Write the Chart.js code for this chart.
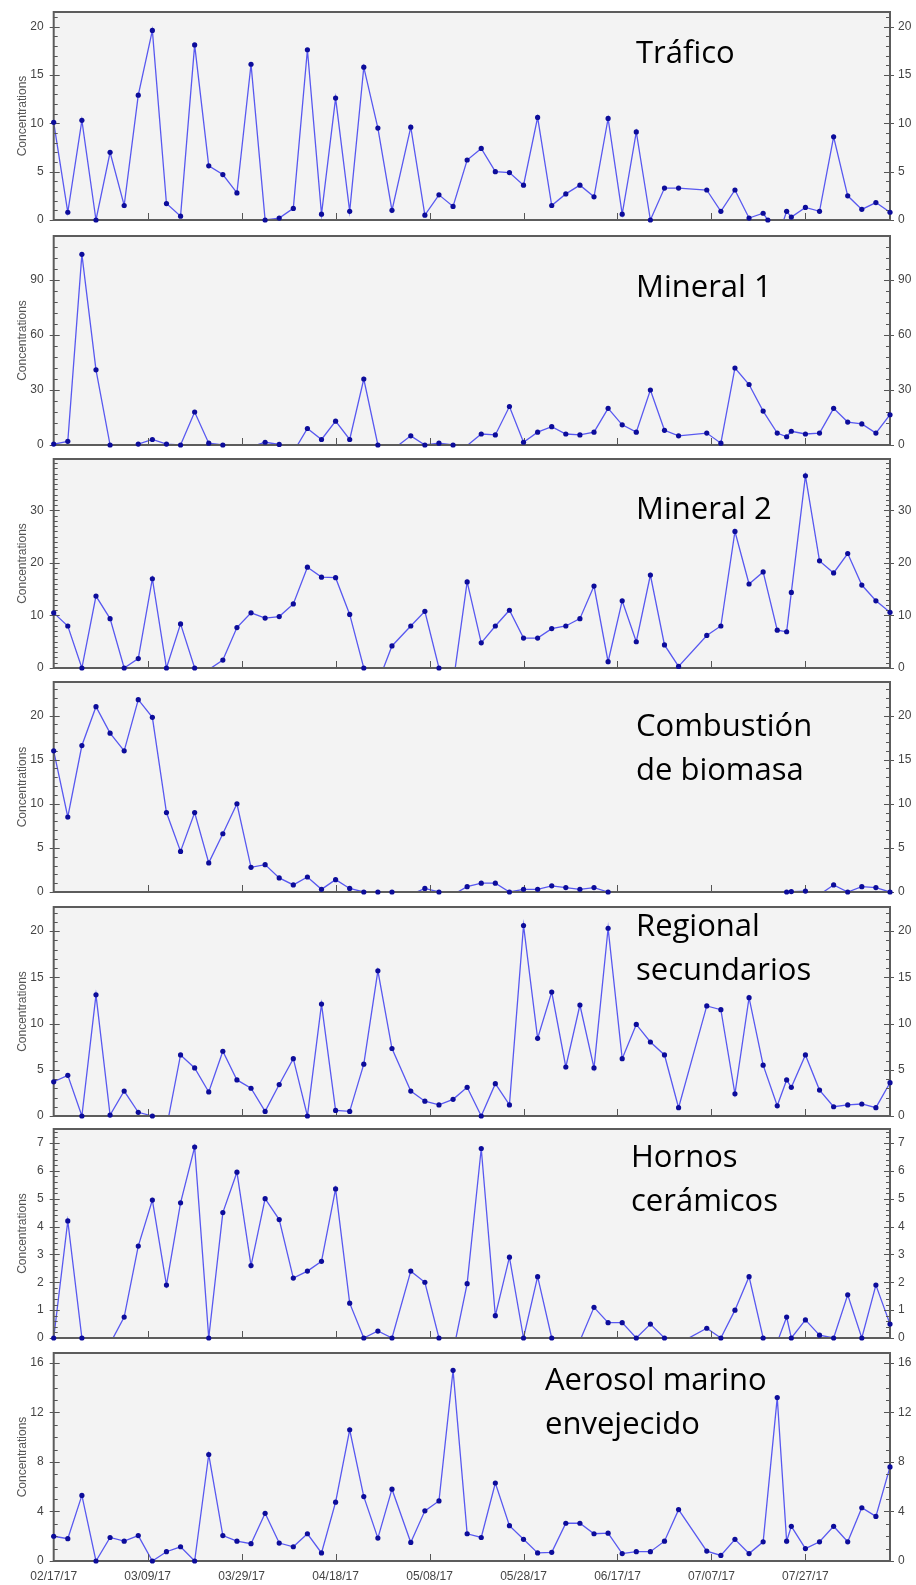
<!DOCTYPE html>
<html>
<head>
<meta charset="utf-8">
<script src="https://cdn.jsdelivr.net/npm/chart.js@4.4.1/dist/chart.umd.min.js"></script>
<style>
html,body{margin:0;padding:0;background:#fff;}
#wrap{position:relative;width:916px;height:1585px;overflow:hidden;background:#fff;}
#wrap canvas{position:absolute;left:0;}
.lbl{position:absolute;font-family:"Open Sans","Noto Sans",sans-serif;font-size:31px;line-height:44px;color:#000;white-space:nowrap;}
</style>
</head>
<body>
<div id="wrap"></div>
<script>
// ---------- DATA ----------
// sampling days, counted from 02/17/17
const sampleDays = [0,3,6,9,12,15,18,21,24,27,30,33,36,39,42,45,48,51,54,57,60,63,66,69,72,
  76,79,82,85,88,91,94,97,100,103,106,109,112,115,118,121,124,127,130,133,
  139,142,145,148,151,152,154,156,157,160,163,166,169,172,175,178];

const trafico = [10.1,0.8,10.3,0,7.0,1.5,12.9,19.6,1.7,0.4,18.1,5.6,4.7,2.8,16.1,0,0.2,1.2,17.6,0.6,12.6,0.9,15.8,9.5,1.0,
  9.6,0.5,2.6,1.4,6.2,7.4,5.0,4.9,3.6,10.6,1.5,2.7,3.6,2.4,10.5,0.6,9.1,0,3.3,3.3,
  3.1,0.9,3.1,0.2,0.7,0,-2,0.9,0.3,1.3,0.9,8.6,2.5,1.1,1.8,0.8];

const mineral1 = [0.5,2,104,41,0,-0.5,0.5,3,0.5,0,18,1,0,-2,-1,1.5,0.3,-3.9,9,3,13,3,36,0,-2.8,
  5,0,1,0,-0.3,6,5.5,21,1.5,7,10,6,5.5,7,20,11,7,30,8,5,
  6.5,1,42,33,18.5,null,6.5,4.5,7.5,6,6.5,20,12.5,11.5,6.5,16.5];

const mineral2 = [10.5,8,0,13.7,9.4,0,1.8,17,0,8.4,0,-0.3,1.5,7.7,10.5,9.5,9.8,12.2,19.2,17.3,17.2,10.2,0,-2.8,4.2,
  8,10.8,0,-3,16.4,4.8,8,11,5.7,5.7,7.5,8,9.4,15.6,1.2,12.8,5,17.7,4.4,0.3,
  6.2,8,26,16,18.3,null,7.2,6.9,14.4,36.6,20.4,18.1,21.8,15.8,12.8,10.6];

const biomasa = [16,8.5,16.6,21,18,16,21.8,19.8,9,4.6,9,3.3,6.6,10,2.8,3.1,1.6,0.8,1.7,0.3,1.4,0.4,0,0,0,
  -0.3,0.4,0,-0.3,0.6,1.0,1.0,0,0.3,0.3,0.7,0.5,0.3,0.5,0,-0.5,-0.5,-0.5,-0.5,-0.5,
  -0.5,-0.5,-0.5,-0.5,-0.5,null,-0.3,0,0.05,0.1,-0.3,0.8,0,0.6,0.5,0];

const regional = [3.7,4.4,0,13.1,0.1,2.7,0.4,0,-1.3,6.6,5.2,2.6,7.0,3.9,3.0,0.5,3.4,6.2,0,12.1,0.6,0.5,5.6,15.7,7.3,
  2.7,1.6,1.2,1.8,3.1,0,3.5,1.2,20.6,8.4,13.4,5.3,12.0,5.2,20.3,6.2,9.9,8.0,6.6,0.9,
  11.9,11.5,2.4,12.8,5.5,null,1.1,3.9,3.1,6.6,2.8,1.0,1.2,1.3,0.9,3.6];

const hornos = [0,4.2,0,-0.5,-0.2,0.75,3.3,4.95,1.9,4.85,6.85,0,4.5,5.95,2.6,5.0,4.25,2.15,2.4,2.75,5.35,1.25,0,0.25,0,
  2.4,2.0,0,-0.5,1.95,6.8,0.8,2.9,0,2.2,0,-0.5,-0.1,1.1,0.55,0.55,0,0.5,0,-0.2,
  0.35,0,1.0,2.2,0,null,-0.15,0.75,0,0.65,0.1,0,1.55,0,1.9,0.5];

const aerosol = [2.0,1.8,5.3,0,1.9,1.6,2.05,0,0.75,1.15,0,8.6,2.05,1.6,1.4,3.85,1.45,1.15,2.2,0.65,4.75,10.6,5.2,1.85,5.8,
  1.5,4.05,4.85,15.4,2.2,1.9,6.3,2.85,1.75,0.65,0.7,3.05,3.05,2.2,2.25,0.6,0.75,0.75,1.6,4.15,
  0.8,0.45,1.75,0.6,1.55,null,13.2,1.6,2.8,1.0,1.55,2.8,1.55,4.3,3.6,7.6];

const panelTitles = [["Tráfico"],["Mineral 1"],["Mineral 2"],["Combustión","de biomasa"],
  ["Regional","secundarios"],["Hornos","cerámicos"],["Aerosol marino","envejecido"]];

const yMax   = [21.5,114,39.8,23.8,22.6,7.5,16.8];
const yStep  = [5,30,10,5,5,1,4];
const yMinor = [1,6,1,1,1,0.2,1];

const dateTickDays = [0,20,40,60,80,100,120,140,160];
const dateLabels = ["02/17/17","03/09/17","03/29/17","04/18/17","05/08/17","05/28/17","06/17/17","07/07/17","07/27/17"];
const xMax = 178;

// ---------- LAYOUT ----------
const series = [trafico, mineral1, mineral2, biomasa, regional, hornos, aerosol];
const plotTop    = [12,236,459,682,907,1129,1353];
const plotBottom = [220,445,668,892,1116,1338,1561];
const labelLeft  = [636,636,636,636,636,631,545];
const labelTop   = [29,263,485,702,902,1133,1356];
const PAD = 10, LEFT_W = 53.7, RIGHT_W = 26;
const FONT = '"Liberation Sans", Arial, sans-serif';

const framePlugin = {
  id: 'frame',
  beforeDraw(chart) {
    const {ctx, chartArea: a} = chart;
    ctx.save();
    ctx.fillStyle = '#f3f3f3';
    ctx.fillRect(a.left, a.top, a.right - a.left, a.bottom - a.top);
    ctx.restore();
  },
  afterDatasetDraw(chart, args, opts) {
    if (args.index !== 0) return;
    const {ctx, chartArea: a, scales} = chart;
    const y = scales.y, x = scales.x;
    ctx.save();
    ctx.strokeStyle = '#555';
    ctx.lineWidth = 1;
    const seg = (x1, y1, x2, y2) => { ctx.beginPath(); ctx.moveTo(x1, y1); ctx.lineTo(x2, y2); ctx.stroke(); };
    const n = Math.floor(y.max / opts.minor + 1e-6);
    for (let k = 0; k <= n; k++) {
      const v = k * opts.minor;
      const r = v / opts.major;
      const major = Math.abs(r - Math.round(r)) < 1e-6;
      const py = Math.round(y.getPixelForValue(v)) + 0.5;
      if (major) { seg(a.left - 4, py, a.left + 6, py); seg(a.right - 6, py, a.right + 4, py); }
      else { seg(a.left, py, a.left + 4, py); seg(a.right - 4, py, a.right, py); }
    }
    dateTickDays.forEach(d => {
      if (d === 0) return;
      const px = Math.round(x.getPixelForValue(d)) + 0.5;
      seg(px, a.bottom, px, a.bottom - 7);
    });
    ctx.lineWidth = 2;
    ctx.strokeStyle = '#5c5c5c';
    ctx.strokeRect(a.left, a.top, a.right - a.left, a.bottom - a.top);
    ctx.restore();
  }
};

const wrap = document.getElementById('wrap');

series.forEach((vals, i) => {
  const last = i === series.length - 1;
  const extra = last ? (1585 - plotBottom[i]) : PAD;
  const h = plotBottom[i] - plotTop[i] + PAD + extra;
  const cv = document.createElement('canvas');
  cv.width = 916; cv.height = h;
  cv.style.top = (plotTop[i] - PAD) + 'px';
  cv.style.width = '916px'; cv.style.height = h + 'px';
  wrap.appendChild(cv);

  const pts = sampleDays.map((d, k) => ({x: d, y: vals[k]}));
  const shown = pts.filter(p => p.y !== null && p.y >= 0);

  new Chart(cv, {
    type: 'scatter',
    data: {
      datasets: [
        {data: pts, showLine: true, spanGaps: true, borderColor: 'rgb(88,88,240)', borderWidth: 1.3,
         pointRadius: 0, pointHoverRadius: 0, clip: 0, order: 2},
        {data: shown, showLine: false, pointRadius: 2.6, pointHoverRadius: 2.6,
         pointBackgroundColor: '#0c0c9a', pointBorderWidth: 0, clip: 6, order: 1}
      ]
    },
    options: {
      responsive: false, animation: false, events: [], devicePixelRatio: 1,
      layout: {padding: {top: PAD, left: 0, right: 0, bottom: 0}},
      plugins: {legend: {display: false}, tooltip: {enabled: false},
                frame: {major: yStep[i], minor: yMinor[i]}},
      scales: {
        x: {
          type: 'linear', position: 'bottom', min: 0, max: xMax,
          grid: {display: false, drawTicks: false}, border: {display: false},
          afterBuildTicks: s => { s.ticks = dateTickDays.map(v => ({value: v})); },
          ticks: {display: last, autoSkip: false, maxRotation: 0, padding: 8, color: '#444',
                  font: {family: FONT, size: 12},
                  callback: v => { const k = dateTickDays.indexOf(v); return k >= 0 ? dateLabels[k] : ''; }},
          afterFit: s => { s.height = extra; s.paddingLeft = 0; s.paddingRight = 0; }
        },
        y: {
          type: 'linear', position: 'left', min: 0, max: yMax[i],
          grid: {display: false, drawTicks: false}, border: {display: false},
          ticks: {stepSize: yStep[i], includeBounds: false, padding: 10, color: '#444',
                  font: {family: FONT, size: 12}},
          title: {display: true, text: 'Concentrations', color: '#555',
                  font: {family: FONT, size: 12}, padding: {top: 15.5, bottom: 0}},
          afterFit: s => { s.width = LEFT_W; s.paddingTop = 0; s.paddingBottom = 0; }
        },
        y2: {
          type: 'linear', position: 'right', min: 0, max: yMax[i],
          grid: {display: false, drawTicks: false}, border: {display: false},
          ticks: {stepSize: yStep[i], includeBounds: false, padding: 8, color: '#444',
                  font: {family: FONT, size: 12}},
          afterFit: s => { s.width = RIGHT_W; s.paddingTop = 0; s.paddingBottom = 0; }
        }
      }
    },
    plugins: [framePlugin]
  });

  const d = document.createElement('div');
  d.className = 'lbl';
  d.style.left = labelLeft[i] + 'px';
  d.style.top = labelTop[i] + 'px';
  d.innerHTML = panelTitles[i].join('<br>');
  wrap.appendChild(d);
});
</script>
</body>
</html>
